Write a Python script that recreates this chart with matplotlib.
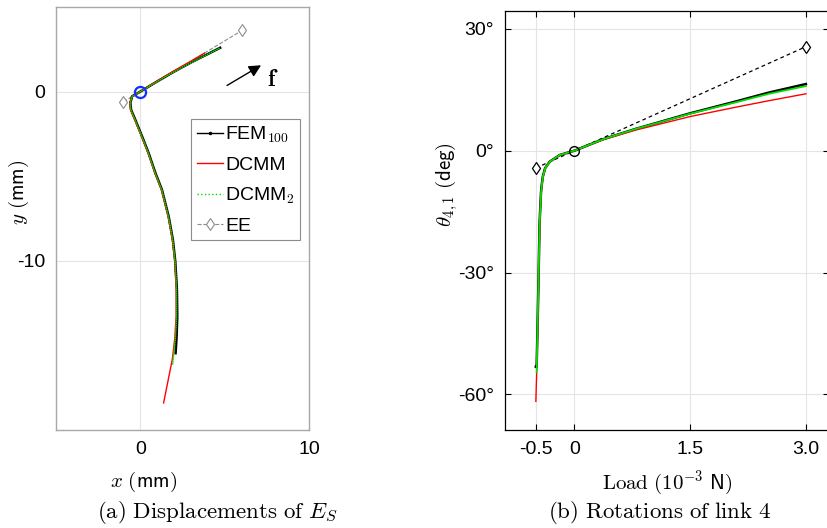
import numpy as np
import matplotlib
matplotlib.use('Agg')
import matplotlib.pyplot as plt
from matplotlib.lines import Line2D

plt.rcParams['font.family'] = ['Liberation Sans', 'DejaVu Sans']
plt.rcParams['mathtext.fontset'] = 'cm'
plt.rcParams['axes.unicode_minus'] = False

# ---- (a) path of E_S in the plane (mm)
fem_x = [4.73, 4.0, 3.0, 2.0, 1.0, 0.0, -0.49, -0.59, -0.55, -0.3, 0.1, 0.49, 0.89, 1.28,
         1.68, 1.93, 2.07, 2.17, 2.19, 2.15, 2.09]
fem_y = [2.59, 2.22, 1.72, 1.18, 0.6, 0.0, -0.28, -0.67, -1.07, -1.66, -2.64, -3.63, -4.8, -5.8,
         -7.38, -8.76, -10.02, -11.7, -13.3, -14.5, -15.46]
dcmm_x = [3.8, 3.0, 2.0, 1.0, 0.0, -0.5, -0.62, -0.58, -0.33, 0.07, 0.46, 0.86, 1.25,
          1.65, 1.9, 2.04, 2.13, 2.12, 2.04, 1.9, 1.62, 1.38]
dcmm_y = [2.27, 1.8, 1.23, 0.62, 0.0, -0.3, -0.68, -1.08, -1.67, -2.65, -3.64, -4.81, -5.81,
          -7.39, -8.77, -10.03, -11.7, -13.3, -14.6, -15.8, -17.2, -18.4]
dcmm2_x = [4.7, 4.0, 3.0, 2.0, 1.0, 0.0, -0.49, -0.6, -0.56, -0.31, 0.09, 0.48, 0.88, 1.27,
           1.67, 1.92, 2.06, 2.15, 2.15, 2.08, 1.91]
dcmm2_y = [2.57, 2.21, 1.71, 1.17, 0.59, 0.0, -0.29, -0.68, -1.08, -1.67, -2.65, -3.64, -4.81,
           -5.81, -7.39, -8.77, -10.03, -11.7, -13.3, -14.6, -16.15]
ee_x = [-1.0, 0.0, 6.04]
ee_y = [-0.6, 0.0, 3.62]

# ---- (b) rotation of link 4 against load
load_fem = [-0.5, -0.49, -0.477, -0.464, -0.452, -0.434, -0.427, -0.41, -0.38, -0.32, -0.19,
            0.0, 0.37, 0.8, 1.5, 2.09, 2.52, 3.0]
theta_fem = [-53.2, -53.2, -42.5, -30.2, -17.9, -10.5, -8.9, -6.4, -4.3, -2.7, -1.06,
             0.0, 2.8, 5.4, 9.2, 12.1, 14.3, 16.4]
load_dcmm = [-0.5, -0.49, -0.475, -0.462, -0.45, -0.432, -0.424, -0.406, -0.376, -0.318, -0.19,
             0.0, 0.37, 0.8, 1.5, 2.09, 2.52, 3.0]
theta_dcmm = [-61.7, -55.0, -42.5, -30.2, -17.9, -10.5, -8.9, -6.4, -4.3, -2.7, -1.06,
              0.0, 2.7, 5.1, 8.4, 10.7, 12.3, 14.0]
load_dcmm2 = [-0.49, -0.477, -0.464, -0.451, -0.433, -0.426, -0.409, -0.379, -0.319, -0.19,
              0.0, 0.37, 0.8, 1.5, 2.09, 2.52, 3.0]
theta_dcmm2 = [-54.5, -42.5, -30.2, -17.9, -10.5, -8.9, -6.4, -4.3, -2.7, -1.06,
               0.0, 2.8, 5.4, 9.1, 11.9, 14.0, 15.9]
load_ee = [-0.5, 0.0, 3.0]
theta_ee = [-4.27, 0.0, 25.6]

fig = plt.figure(figsize=(8.28, 5.28), dpi=100)

# ------------------------------------------------------------ (a)
ax1 = fig.add_axes([56 / 828, 1 - 430 / 528, 253 / 828, 423 / 528])
ax1.plot(ee_x, ee_y, '--', color='#8c8c8c', lw=0.8, marker='d', ms=6, mfc='white',
         mec='#8c8c8c', mew=0.8, markevery=[0, 2])
ax1.plot(fem_x, fem_y, '-', color='black', lw=1.8)
ax1.plot(dcmm_x, dcmm_y, '-', color='red', lw=1.0)
ax1.plot(dcmm2_x, dcmm2_y, color='#00e000', lw=1.1, ls=(0, (1, 0.4)))
ax1.plot([0], [0], 'o', ms=8, mfc='none', mec='#1030ff', mew=1.6)
ax1.set_xlim(-5, 10)
ax1.set_ylim(-20, 5)
ax1.set_xticks([0, 10])
ax1.set_yticks([-10, 0])
ax1.grid(True, color='#e4e4e4', lw=0.8)
ax1.set_axisbelow(True)
for s in ax1.spines.values():
    s.set_color('#a8a8a8')
    s.set_linewidth(1.0)
ax1.tick_params(length=0, labelsize=14, pad=8)
ax1.set_xlabel(r'$x\ \mathsf{(mm)}$', fontsize=15, va='center')
ax1.set_ylabel(r'$y\ \mathsf{(mm)}$', fontsize=15, va='center')
ax1.xaxis.set_label_coords(0.348, -0.122)
ax1.yaxis.set_label_coords(-0.146, 0.563)

ax1.annotate('', xy=(7.3, 1.64), xytext=(5.0, 0.28),
             arrowprops=dict(arrowstyle='-|>', color='black', lw=1.0, mutation_scale=18))
ax1.text(7.85, 0.7, r'$\mathbf{f}$', fontsize=17, ha='center', va='center')

handles = [Line2D([], [], color='black', lw=1.0, marker='.', ms=3),
           Line2D([], [], color='red', lw=1.0),
           Line2D([], [], color='#00e000', lw=1.0, ls=':'),
           Line2D([], [], color='#8c8c8c', lw=0.8, ls='--', marker='d', ms=6,
                  mfc='white', mec='#8c8c8c', mew=0.8)]
labels = ['FEM$_{\\mathsf{100}}$', 'DCMM', 'DCMM$_{\\mathsf{2}}$', 'EE']
leg = ax1.legend(handles, labels, loc='upper left', bbox_to_anchor=(0.534, 0.735),
                 borderaxespad=0, fontsize=14, handlelength=1.35, handletextpad=0.1,
                 labelspacing=0.58, borderpad=0.3, fancybox=False, framealpha=1,
                 edgecolor='#8c8c8c')
leg.get_frame().set_linewidth(0.8)

# ------------------------------------------------------------ (b)
ax2 = fig.add_axes([505 / 828, 1 - 430 / 528, 324 / 828, 419 / 528])
ax2.plot(load_ee, theta_ee, '--', color='black', lw=0.9, marker='d', ms=6.5, mfc='white',
         mec='black', mew=0.9, markevery=[0, 2], dashes=(3, 2.5))
ax2.plot(load_fem, theta_fem, '-', color='black', lw=1.8)
ax2.plot(load_dcmm, theta_dcmm, '-', color='red', lw=1.0)
ax2.plot(load_dcmm2, theta_dcmm2, '-', color='#00e000', lw=1.3)
ax2.plot([0], [0], 'o', ms=7, mfc='none', mec='black', mew=1.0)
ax2.set_xlim(-0.9, 3.3)
ax2.set_ylim(-68.75, 34.38)
ax2.set_xticks([-0.5, 0, 1.5, 3.0])
ax2.set_xticklabels(['-0.5', '0', '1.5', '3.0'])
ax2.set_yticks([-60, -30, 0, 30])
ax2.set_yticklabels(['-60°', '-30°', '0°', '30°'])
ax2.grid(True, color='#e4e4e4', lw=0.8)
ax2.set_axisbelow(True)
for s in ax2.spines.values():
    s.set_color('black')
    s.set_linewidth(0.9)
ax2.tick_params(direction='in', length=4, width=0.8, top=True, right=True,
                labelsize=14, pad=8)
ax2.set_xlabel(r'$\mathrm{Load}\ \mathsf{(10^{-3}\ N)}$', fontsize=15, va='center')
ax2.set_ylabel(r'$\theta_{4,1}\ \mathsf{(deg)}$', fontsize=15, va='center')
ax2.xaxis.set_label_coords(0.5, -0.126)
ax2.yaxis.set_label_coords(-0.179, 0.585)

# captions
fig.text(217 / 828, 1 - 512 / 528, r'$\mathrm{(a)\ Displacements\ of\ }E_S$',
         fontsize=16.5, ha='center', va='center')
fig.text(660 / 828, 1 - 512 / 528, r'$\mathrm{(b)\ Rotations\ of\ link\ 4}$',
         fontsize=16.5, ha='center', va='center')

fig.savefig('out.png', dpi=100)
